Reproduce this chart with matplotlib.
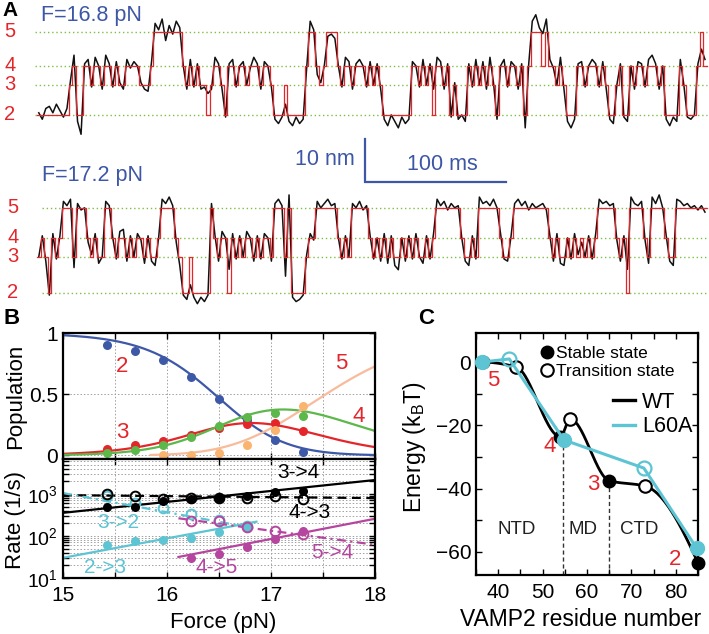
import numpy as np
import matplotlib
matplotlib.use("Agg")
import matplotlib.pyplot as plt
from matplotlib.lines import Line2D
from matplotlib.ticker import MultipleLocator, FixedLocator, NullFormatter, LogLocator

plt.rcParams.update({
    "font.family": ["Liberation Sans", "DejaVu Sans"],
    "mathtext.fontset": "custom",
    "mathtext.rm": "Liberation Sans",
    "mathtext.it": "Liberation Sans:italic",
    "mathtext.bf": "Liberation Sans:bold",
})

# ---------------- Panel A data ----------------
DT_MS = 2.5  # sampling of the traces (ms)
TOP_STATES = ("222222222" "34" "22" "4434434434334444333" "4" "55555555" "4343433" "2" "3" "44" "32"
              "4434434443443" "222322222" "4" "55" "434" "555" "4344344434343" "22222222" "443434"
              "2" "4434" "2" "3" "222" "43434343" "2" "4434434" "2" "4" "55545" "44343" "222"
              "443444343" "22" "34" "22" "4344344434" "2222" "43" "222" "4" "5" "4")
TOP_DEV = [0.5, -1.0, 1.5, 2.0, 0.5, 2.5, 1.0, -0.5, 1.5,
           1.0, 2.5,
           -1.5, -4.5,
           0.5, 1.5, -0.5, 2.0, 0.0, -1.0, 2.5, 0.5, -0.5, 1.0, 0.5, -1.0, 1.5, -0.5, 1.0, 0.0, 0.5, -1.0, -1.5,
           1.0,
           2.0, 0.5, 3.0, -2.0, 1.5, -0.5, 2.5, 1.0,
           0.0, -1.0, 1.5, -0.5, 0.5, -1.0, -0.5,
           5.0, -1.0, 2.0, 0.5, -1.0, -0.5,
           0.5, 1.5, -0.5, 0.0, 1.0, 0.0, -0.5, 2.0, 0.5, -1.0, 1.0, 0.0, -0.5,
           -1.0, -2.0, -0.5, -4.5, -1.5, -2.5, -0.5, -2.0, -1.0,
           -0.5, 2.5, 0.5, -2.0, 0.5, 0.0, -1.0, -0.5, -1.5,
           0.0, -0.5, 2.0, 1.0, -1.0, 0.5, 1.5, 0.0, -0.5, 1.0, 0.0, 0.5, -1.0,
           -1.0, -2.5, 0.0, -1.5, -3.0, -0.5, -2.0, -1.0,
           1.0, 0.0, -0.5, 1.5, 0.0, 0.5,
           6.0, 2.0, 1.0, -1.0, 0.5, -0.5, 0.5, -1.0, 0.0, -1.5,
           0.5, -0.5, 1.5, 0.0, 1.0, -1.0, 2.0, 0.5,
           -1.0, 0.0, 1.5, -0.5, 1.0, 0.0, -1.0, 0.5,
           -3.0, 0.5, 2.5, 4.0, 1.0, 7.5, 3.0,
           1.5, -0.5, 0.0, 2.0, -1.0, -1.5, -3.0, -1.0,
           0.5, 1.0, -0.5, 0.0, 1.5, 0.5, -0.5, 1.0, -1.0,
           -1.0, -2.0, 0.0, 0.5, -0.5, -1.5,
           0.0, -1.0, 1.0, 0.5, -0.5, 1.5, 2.5, 0.5, -1.0, 0.0,
           -1.0, -2.5, -0.5, -1.5, 1.5, 0.0, -0.5, -1.0, 0.0, 0.5, -4.0, 1.5]
BOT_STATES = ("3432434" "555" "3" "555" "43433" "55" "43443434434334" "5555" "43" "22322222" "5"
              "43442434344343443" "555" "3" "5" "2222" "344" "555555" "4343" "55555"
              "4343434334343433434" "5555555" "43343" "555555" "4334" "5555555555"
              "43433434343434" "55555" "434" "2" "5555" "43" "5555" "433" "555555555")
BOT_DEV = [0.0, 0.5, -1.0, -0.5, 1.0, -0.5, 0.5,
           1.5, 0.5, 2.0, -2.5, 1.0, -0.5, 0.0,
           -1.0, 0.5, 1.0, -1.5, 0.0, 1.5, 0.5,
           0.0, -0.5, 1.5, 2.0, -1.0, 0.5, 0.0, 1.0, -0.5, -1.5, 0.5, -1.0, -2.0, 0.0,
           2.0, 1.0, 2.5, 0.5, -1.0, -2.0,
           -0.5, -1.5, -6.5, -1.0, -2.5, -1.0, -2.0, -0.5,
           1.0,
           0.5, -1.0, 1.5, 0.0, 5.5, 1.0, -0.5, 0.5, 0.0, 1.5, 0.0, -1.0, 0.5, -0.5, 1.0, 0.0, -1.0,
           1.0, 2.0, 0.5, -4.5, 3.0,
           -1.0, -2.0, -1.5, -0.5, 0.5, 1.0, -0.5,
           1.5, 0.0, 1.0, 2.0, 0.5, 1.0, 0.0, -0.5, 0.5, 0.0,
           1.0, 0.0, 1.5, -0.5, 0.5,
           0.5, -0.5, 0.0, -1.0, 1.0, -1.5, 0.5, -2.0, -3.0, 0.0, -1.0, 0.5, -0.5, 1.0, 0.0, -1.5, 0.5, -0.5, 1.0,
           2.0, 0.5, 1.5, -0.5, 1.0, 0.0, 0.5,
           0.0, -1.0, -2.0, 0.5, -0.5,
           2.5, 1.0, 1.5, 0.5, 2.0, 0.0,
           1.0, -0.5, -1.0, 0.5,
           1.0, 2.0, 0.5, 1.5, -0.5, 1.0, 0.0, 0.5, 1.0, -0.5,
           0.5, -1.0, 1.0, -1.5, -2.0, 0.0, -0.5, 1.0, 0.5, -1.0, 0.0, 0.5, -0.5, 1.0,
           2.0, 1.0, 1.5, 0.5, 1.0,
           -0.5, -1.0, 0.5, 5.5,
           2.5, 1.0, 0.5, 1.5, -0.5, -1.5, 2.5, 1.0, 3.0, 0.0,
           0.5, -1.0, -2.0,
           2.0, 1.5, 0.5, 1.0, 0.0, 0.5, -0.5, 0.5, -1.0]
STATE_NAMES = [2, 3, 4, 5]
TOP_LEVELS = [0.0, 7.0, 11.4, 19.3]     # nm relative to state 2, F=16.8 pN
BOT_LEVELS = [0.0, 8.4, 12.8, 19.8]     # nm relative to state 2, F=17.2 pN
TOP_OFFSET = 44.2
BOT_OFFSET = 2.8

# ---------------- Panel B data ----------------
FORCE = [15.42, 15.69, 15.96, 16.23, 16.50, 16.77, 17.04, 17.31]
POP2 = [0.899, 0.856, 0.779, 0.640, 0.463, 0.29, 0.128, 0.027]
POP3 = [0.054, 0.082, 0.114, 0.170, 0.223, 0.259, 0.264, 0.196]
POP4 = [0.016, 0.041, 0.082, 0.153, 0.237, 0.313, 0.346, 0.319]
POP5 = [0.0, 0.005, 0.019, 0.087, 0.21, 0.40]          # from FORCE[2:]
# Boltzmann model ln(Pj/P2) = s_j (F - F_j) for j = 3, 4, 5
POP_SLOPE = [2.4, 3.1, 4.9]
POP_FHALF = [16.79, 16.716, 16.924]

K34 = [490, 479, 661, 759, 794, 912, 1096, 1202]
K43 = [1000, 871, 759, 813, 794, 794, 871, 759]
K23 = [62, 74, 78, 89, 123, 166]                    # FORCE[:6]
K32 = [891, 603, 468, 339, 240, 174]                # FORCE[:6]
K45 = [30, 38, 55, 85, 132]                         # FORCE[3:]
K54 = [229, 229, 166, 132, 112]                     # FORCE[3:]
# fits: log10 k = L16 + slope*(F-16), drawn on [Fmin, Fmax]
FIT_NAMES = ["3->4", "4->3", "3->2", "2->3", "4->5", "5->4"]
FIT_L16 = [2.81, 2.947, 2.564, 1.942, 1.447, 2.457]
FIT_SLOPE = [0.26, -0.0233, -0.456, 0.462, 0.481, -0.333]
FIT_FMIN = [15, 15, 15, 15, 16.11, 16.11]
FIT_FMAX = [18, 18, 16.8, 16.86, 18, 18]

# ---------------- Panel C data ----------------
WT_RES = [36.5, 44.0, 54.0, 56.2, 65.0, 73.1, 85.0]
WT_E = [0.0, -1.5, -23.6, -18.0, -37.5, -39.2, -63.5]
WT_STABLE = [True, False, True, False, True, False, True]
L60A_RES = [36.3, 42.5, 54.8, 72.8, 84.7]
L60A_E = [0.0, 1.0, -24.6, -33.5, -58.8]
L60A_STABLE = [True, False, True, False, True]
DOMAIN_BOUNDS = [54.5, 65.0]
DOMAIN_BOUND_E = [-24.0, -37.5]

# ---------------- colours ----------------
RED = "#e3262b"
BLUE_T = "#3d57a6"
GREEN_DOT = "#7cc043"
C_BLUE = "#3e58a8"
C_RED = "#e4262b"
C_GREEN = "#5cb84a"
C_ORANGE_L = "#f8bb9c"
C_ORANGE_D = "#f9b570"
CYAN = "#5cc4d2"
MAGENTA = "#b5459f"

W, H = 709, 634
fig = plt.figure(figsize=(W / 100, H / 100), dpi=100)


def px_axes(l, t, r, b):
    return fig.add_axes([l / W, 1 - b / H, (r - l) / W, (b - t) / H])


# ================= Panel A =================
PX_PER_MS = 1.41
PX_PER_NM = 4.3
X0 = 37
axA = px_axes(0, 0, W, 305)
axA.set_xlim(-X0 / PX_PER_MS, (W - X0) / PX_PER_MS)
axA.set_ylim(0, 305 / PX_PER_NM)
axA.axis("off")


def draw_trace(states, dev, levels, offset, line_start_px, label_px):
    st = np.array([int(c) for c in states])
    lv = np.array([levels[STATE_NAMES.index(s)] for s in st]) + offset
    n = len(st)
    t_edges = np.arange(n + 1) * DT_MS
    for L in levels:
        axA.plot([(line_start_px - X0) / PX_PER_MS, (W - 2 - X0) / PX_PER_MS], [L + offset] * 2,
                 color=GREEN_DOT, lw=1.0, ls=(0, (1, 2)), zorder=1)
    axA.plot(t_edges[:-1] + DT_MS / 2, lv + np.array(dev), color="#111111", lw=1.1, zorder=2)
    axA.step(t_edges, np.append(lv, lv[-1]), where="post", color=RED, lw=0.9, zorder=3)
    for name, L in zip(STATE_NAMES, levels):
        axA.text((label_px - X0) / PX_PER_MS, L + offset, str(name), color=RED, fontsize=14.5,
                 ha="center", va="center")


draw_trace(TOP_STATES, TOP_DEV, TOP_LEVELS, TOP_OFFSET, 35, 10)
draw_trace(BOT_STATES, BOT_DEV, BOT_LEVELS, BOT_OFFSET, 42, 13)

axA.text((41 - X0) / PX_PER_MS, (305 - 15) / PX_PER_NM, "F=16.8 pN", color=BLUE_T, fontsize=15.5,
         ha="left", va="center")
axA.text((42 - X0) / PX_PER_MS, (305 - 175) / PX_PER_NM, "F=17.2 pN", color=BLUE_T, fontsize=15.5,
         ha="left", va="center")
# scale bar 10 nm / 100 ms
sb_t = (365 - X0) / PX_PER_MS
sb_y = (305 - 182) / PX_PER_NM
axA.plot([sb_t, sb_t, sb_t + 100], [sb_y + 10, sb_y, sb_y], color=BLUE_T, lw=1.6,
         solid_joinstyle="miter")
axA.text(sb_t - 7, sb_y + 5.3, "10 nm", color=BLUE_T, fontsize=15.5, ha="right", va="center")
axA.text(sb_t + 55, sb_y + 4.0, "100 ms", color=BLUE_T, fontsize=15.5, ha="center", va="center")
fig.text(10 / W, 1 - 11 / H, "A", fontsize=15, fontweight="bold", ha="center", va="center")

# ================= Panel B =================
tick_kw = dict(direction="in", top=True, right=True, length=4, width=1.0, labelsize=15)
axP = px_axes(63, 333, 375, 459)
axR = px_axes(63, 459, 375, 578)
for ax in (axP, axR):
    for s in ax.spines.values():
        s.set_linewidth(1.6)
    ax.tick_params(which="both", **tick_kw)
    ax.set_xlim(15, 18)
    ax.xaxis.set_major_locator(MultipleLocator(1))
    ax.xaxis.set_minor_locator(MultipleLocator(0.5))

grid_kw = dict(color="#a0a0a0", ls=(0, (1.5, 2)), lw=0.7)
axP.set_ylim(-0.029, 1.0)
axP.set_yticks([0, 0.5, 1])
axP.set_yticklabels(["0", "0.5", "1"])
axP.tick_params(labelbottom=False)
axP.grid(True, which="both", axis="x", **grid_kw)
axP.grid(True, which="major", axis="y", **grid_kw)

Fc = np.linspace(15, 18, 400)
ratios = [np.ones_like(Fc)] + [np.exp(s * (Fc - f)) for s, f in zip(POP_SLOPE, POP_FHALF)]
Z = sum(ratios)
P = [r / Z for r in ratios]
axP.plot(Fc, P[0], color=C_BLUE, lw=1.6)
axP.plot(Fc, P[1], color=C_RED, lw=1.6)
axP.plot(Fc, P[2], color=C_GREEN, lw=1.6)
m5 = Fc >= 15.84
axP.plot(Fc[m5], P[3][m5], color=C_ORANGE_L, lw=1.6)
axP.plot(FORCE, POP2, "o", color=C_BLUE, ms=6.5, mec="none")
axP.plot(FORCE, POP3, "o", color=C_RED, ms=6.5, mec="none")
axP.plot(FORCE, POP4, "o", color=C_GREEN, ms=6.5, mec="none")
axP.plot(FORCE[2:], POP5, "o", color=C_ORANGE_D, ms=6.5, mec="none", clip_on=False)
for txt, f, p in [("2", 15.57, 0.73), ("3", 15.57, 0.19), ("5", 17.68, 0.755), ("4", 17.84, 0.32)]:
    axP.text(f, p, txt, color=RED, fontsize=16, ha="center", va="center")
axP.set_ylabel("Population", fontsize=16)
axP.yaxis.set_label_coords(-0.118, 0.5)

axR.set_yscale("log")
axR.set_ylim(10, 10 ** 3.83)
axR.yaxis.set_major_locator(FixedLocator([10, 100, 1000]))
axR.yaxis.set_minor_locator(LogLocator(base=10, subs=np.arange(2, 10)))
axR.yaxis.set_minor_formatter(NullFormatter())
axR.grid(True, which="both", **grid_kw)
axR.set_xticks([15, 16, 17, 18])
axR.set_xticklabels(["15", "16", "17", "18"])
axR.tick_params(axis="y", labelsize=14)
axR.tick_params(axis="x", pad=6)

fit_style = {"3->4": ("k", "-"), "4->3": ("k", (0, (4, 2.5))), "3->2": (CYAN, (0, (4, 2, 1, 2))),
             "2->3": (CYAN, "-"), "4->5": (MAGENTA, "-"), "5->4": (MAGENTA, (0, (4, 2, 1, 2)))}
for name, l16, sl, f0, f1 in zip(FIT_NAMES, FIT_L16, FIT_SLOPE, FIT_FMIN, FIT_FMAX):
    ff = np.array([f0, f1])
    c, ls = fit_style[name]
    axR.plot(ff, 10 ** (l16 + sl * (ff - 16)), color=c, ls=ls, lw=1.6)

mk = dict(ms=6.5, mec="none", ls="none", marker="o")
ok = dict(ms=7, mfc="none", mew=1.4, ls="none", marker="o")
axR.plot(FORCE[:6], K32, color=CYAN, **ok)
axR.plot(FORCE[:6], K23, color=CYAN, **mk)
axR.plot(FORCE[3:], K54, color=MAGENTA, **ok)
axR.plot(FORCE[3:], K45, color=MAGENTA, **mk)
axR.plot(FORCE, K43, color="k", **ok)
axR.plot(FORCE, K34, color="k", **mk)

for txt, f, lk, c in [("3->4", 17.26, 3.50, "k"), ("4->3", 17.375, 2.55, "k"),
                      ("3->2", 15.53, 2.33, CYAN), ("2->3", 15.40, 1.26, CYAN),
                      ("4->5", 16.48, 1.26, MAGENTA), ("5->4", 17.59, 1.60, MAGENTA)]:
    axR.text(f, 10 ** lk, txt, color=c, fontsize=15, ha="center", va="center")
axR.set_ylabel("Rate (1/s)", fontsize=16)
axR.yaxis.set_label_coords(-0.118, 0.49)
axR.set_xlabel("Force (pN)", fontsize=16)
axR.xaxis.set_label_coords(0.515, -0.285)
fig.text(12 / W, 1 - 318 / H, "B", fontsize=16, fontweight="bold", ha="center", va="center")

# ================= Panel C =================
axC = px_axes(476, 333, 698, 575)
for s in axC.spines.values():
    s.set_linewidth(1.6)
axC.set_xlim(35, 85)
axC.set_ylim(-67.3, 9.2)
axC.xaxis.set_major_locator(MultipleLocator(10))
axC.xaxis.set_minor_locator(MultipleLocator(5))
axC.set_yticks([-60, -40, -20, 0])
axC.set_yticklabels(["\u221260", "\u221240", "\u221220", "0"])
axC.yaxis.set_minor_locator(MultipleLocator(10))
axC.tick_params(which="both", direction="in", top=True, right=True, length=4, width=1.0, labelsize=15)
axC.tick_params(axis="x", pad=6)


def pchip(x, y, xs):
    x = np.asarray(x, float)
    y = np.asarray(y, float)
    h = np.diff(x)
    d = np.diff(y) / h
    n = len(x)
    m = np.zeros(n)
    for k in range(1, n - 1):
        if d[k - 1] * d[k] > 0:
            w1 = 2 * h[k] + h[k - 1]
            w2 = h[k] + 2 * h[k - 1]
            m[k] = (w1 + w2) / (w1 / d[k - 1] + w2 / d[k])
    def end(h0, h1, d0, d1):
        v = ((2 * h0 + h1) * d0 - h0 * d1) / (h0 + h1)
        if np.sign(v) != np.sign(d0):
            v = 0.0
        elif np.sign(d0) != np.sign(d1) and abs(v) > abs(3 * d0):
            v = 3 * d0
        return v
    m[0] = end(h[0], h[1], d[0], d[1])
    m[-1] = end(h[-1], h[-2], d[-1], d[-2])
    idx = np.clip(np.searchsorted(x, xs) - 1, 0, n - 2)
    t = (xs - x[idx]) / h[idx]
    h00 = 2 * t ** 3 - 3 * t ** 2 + 1
    h10 = t ** 3 - 2 * t ** 2 + t
    h01 = -2 * t ** 3 + 3 * t ** 2
    h11 = t ** 3 - t ** 2
    return h00 * y[idx] + h10 * h[idx] * m[idx] + h01 * y[idx + 1] + h11 * h[idx] * m[idx + 1]


xs = np.linspace(WT_RES[0], WT_RES[-1], 400)
for xb, eb in zip(DOMAIN_BOUNDS, DOMAIN_BOUND_E):
    axC.plot([xb, xb], [-67.3, eb], color="#333333", ls=(0, (3, 2)), lw=1.0, zorder=1)
axC.plot(xs, pchip(WT_RES, WT_E, xs), color="k", lw=2.0, zorder=2)
for x_, e_, st in zip(WT_RES, WT_E, WT_STABLE):
    if st:
        axC.plot(x_, e_, "o", color="k", ms=9, zorder=3, clip_on=False)
    else:
        axC.plot(x_, e_, "o", mfc="white", mec="k", mew=1.5, ms=9, zorder=3, clip_on=False)
axC.plot(L60A_RES, L60A_E, color=CYAN, lw=2.2, zorder=4)
for x_, e_, st in zip(L60A_RES, L60A_E, L60A_STABLE):
    if st:
        axC.plot(x_, e_, "o", color=CYAN, ms=10, zorder=5, clip_on=False)
    else:
        axC.plot(x_, e_, "o", mfc="none", mec=CYAN, mew=1.6, ms=10, zorder=5, clip_on=False)

for txt, x_, e_ in [("5", 38.8, -5.7), ("4", 51.7, -26.8), ("3", 61.4, -38.8), ("2", 79.8, -62.5)]:
    axC.text(x_, e_, txt, color=RED, fontsize=16, ha="center", va="center")
for txt, x_ in [("NTD", 44.2), ("MD", 59.1), ("CTD", 71.7)]:
    axC.text(x_, -53, txt, color="#222222", fontsize=13.5, ha="center", va="center")

h1 = [Line2D([], [], marker="o", color="k", ls="none", ms=9),
      Line2D([], [], marker="o", mfc="none", mec="k", mew=1.5, ls="none", ms=9)]
leg1 = axC.legend(h1, ["Stable state", "Transition state"], loc="upper left",
                  bbox_to_anchor=(0.292, 0.948), frameon=False, fontsize=12.5, handlelength=0.7,
                  handletextpad=0.15, labelspacing=0.2, borderpad=0, borderaxespad=0)
axC.add_artist(leg1)
h2 = [Line2D([], [], color="k", lw=2.4), Line2D([], [], color=CYAN, lw=2.4)]
axC.legend(h2, ["WT", "L60A"], loc="upper left", bbox_to_anchor=(0.618, 0.757), frameon=False,
           fontsize=15.5, handlelength=1.0, handletextpad=0.35, labelspacing=0.15, borderpad=0,
           borderaxespad=0)

axC.set_ylabel("Energy (k$_\\mathrm{B}$T)", fontsize=16.5)
axC.yaxis.set_label_coords(-0.215, 0.53)
axC.set_xlabel("VAMP2 residue number", fontsize=16.5)
axC.xaxis.set_label_coords(0.47, -0.135)
fig.text(426 / W, 1 - 318 / H, "C", fontsize=16, fontweight="bold", ha="center", va="center")

fig.savefig("out.png", dpi=100)
